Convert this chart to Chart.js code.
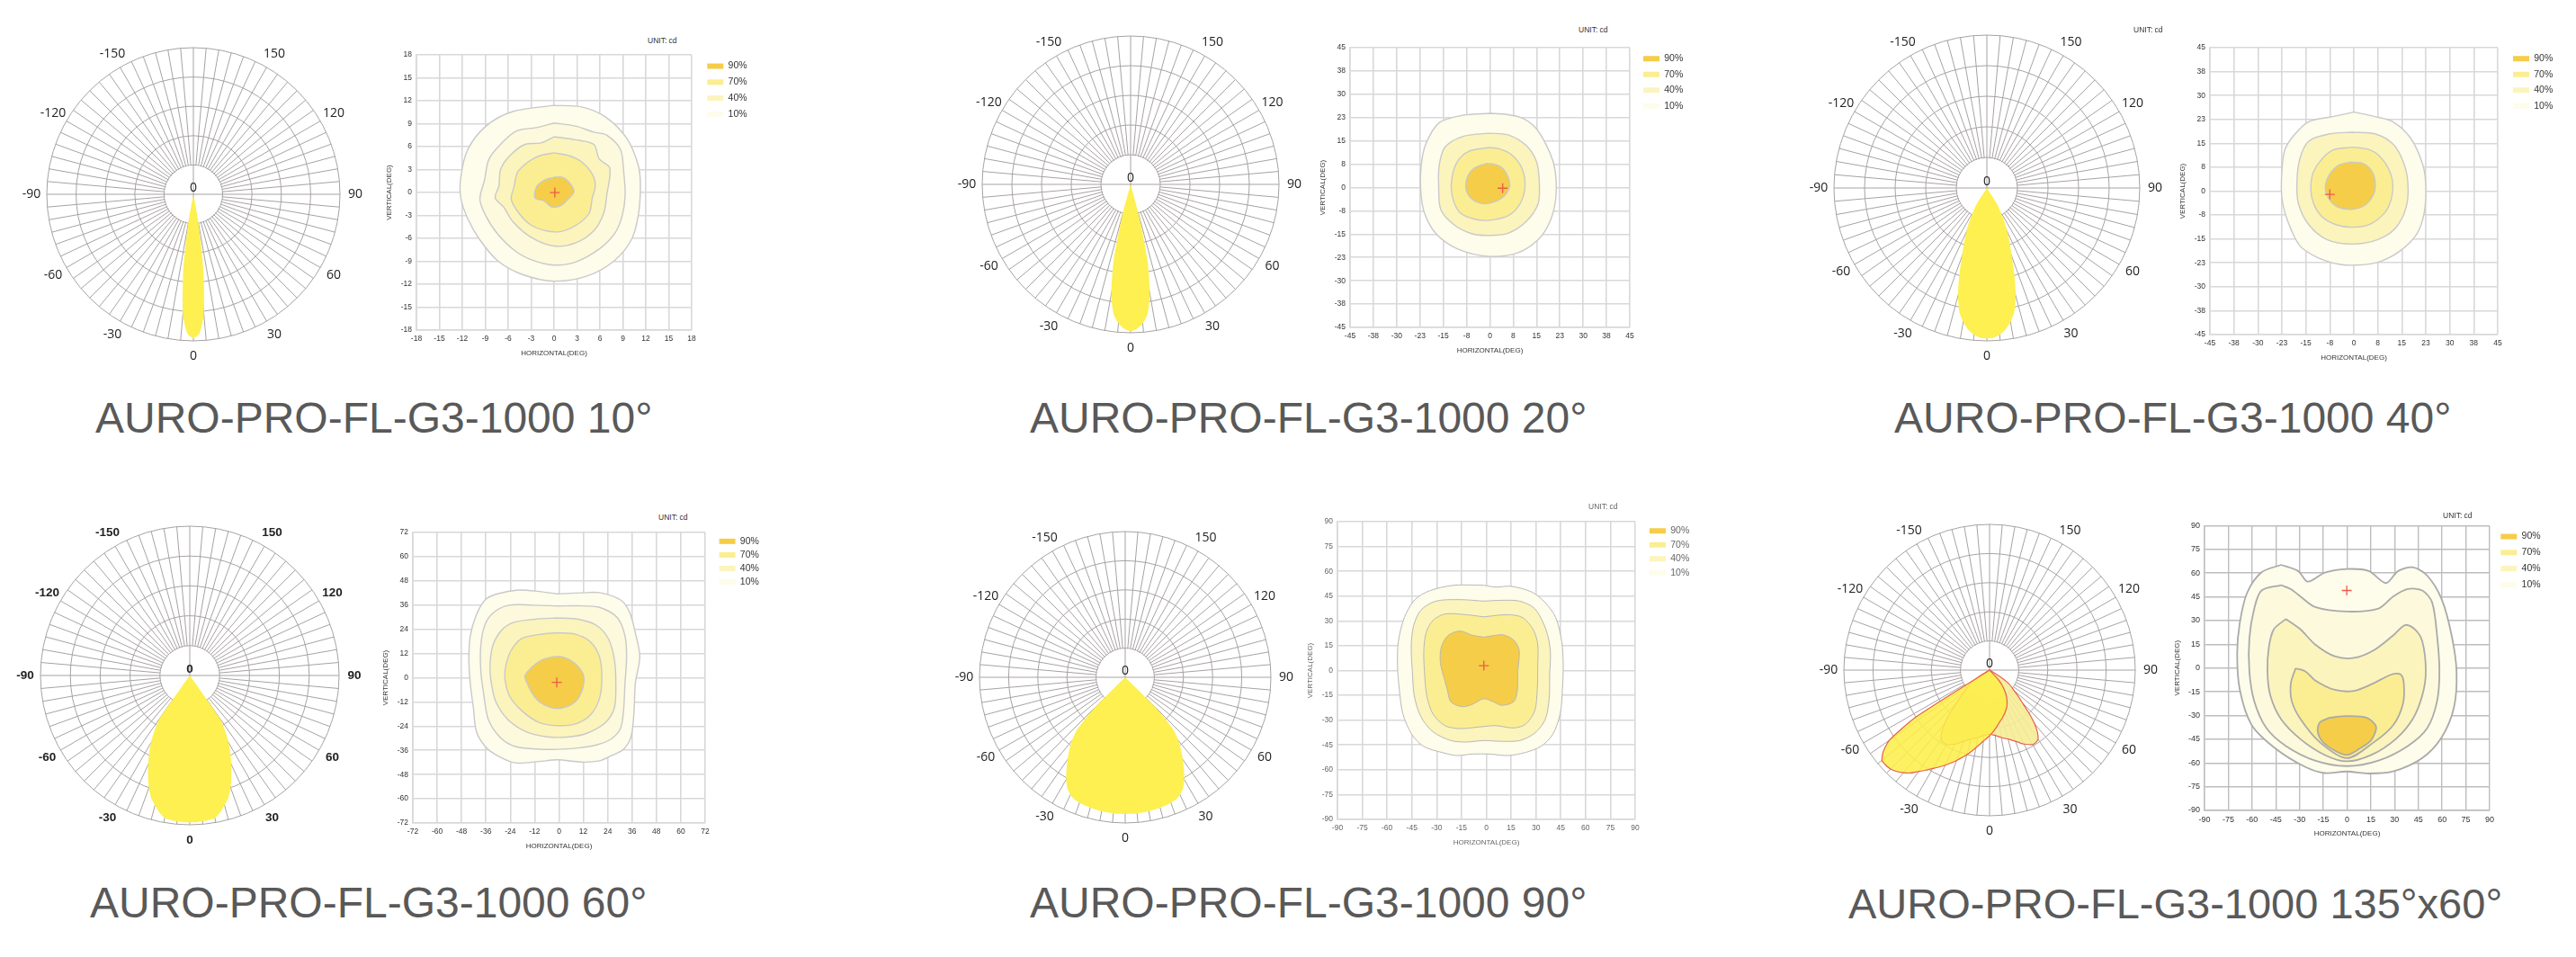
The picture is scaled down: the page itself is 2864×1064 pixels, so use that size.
<!DOCTYPE html>
<html>
<head>
<meta charset="utf-8">
<script src="https://cdn.jsdelivr.net/npm/chart.js@4.4.1/dist/chart.umd.min.js"></script>
<style>
  html, body { margin: 0; padding: 0; background: #fff; }
  body { width: 2864px; height: 1064px; position: relative; overflow: hidden; font-family: "Liberation Sans", Arial, sans-serif; }
  canvas { position: absolute; }
  .cap { position: absolute; font-size: 48px; line-height: 1; color: #595959; white-space: nowrap; }
  .unit { position: absolute; font-size: 8.5px; line-height: 1; color: #333; white-space: nowrap; }
</style>
</head>
<body>
<canvas id="polar1"></canvas><canvas id="iso1"></canvas>
<canvas id="polar2"></canvas><canvas id="iso2"></canvas>
<canvas id="polar3"></canvas><canvas id="iso3"></canvas>
<canvas id="polar4"></canvas><canvas id="iso4"></canvas>
<canvas id="polar5"></canvas><canvas id="iso5"></canvas>
<canvas id="polar6"></canvas><canvas id="iso6"></canvas>

<div class="unit" style="left:720px;top:41px">UNIT: cd</div>
<div class="unit" style="left:1755px;top:29px">UNIT: cd</div>
<div class="unit" style="left:2372px;top:29px">UNIT: cd</div>
<div class="unit" style="left:732px;top:571px">UNIT: cd</div>
<div class="unit" style="left:1766px;top:559px;color:#666">UNIT: cd</div>
<div class="unit" style="left:2716px;top:569px">UNIT: cd</div>

<div class="cap" style="left:106px;top:441px">AURO-PRO-FL-G3-1000 10°</div>
<div class="cap" style="left:1145px;top:441px">AURO-PRO-FL-G3-1000 20°</div>
<div class="cap" style="left:2106px;top:441px">AURO-PRO-FL-G3-1000 40°</div>
<div class="cap" style="left:100px;top:980px">AURO-PRO-FL-G3-1000 60°</div>
<div class="cap" style="left:1145px;top:980px">AURO-PRO-FL-G3-1000 90°</div>
<div class="cap" style="left:2055px;top:981px;font-size:47px">AURO-PRO-FL-G3-1000 135°x60°</div>

<script>
Chart.defaults.font.family = '"Liberation Sans", Arial, sans-serif';

// ---------- polar (candela) diagrams ----------
// radius on a 0..5 ring scale, one value every 2.5 deg from 0 outward
const lobe10 = [4.91, 4.75, 4.1, 2.65, 1.06, 0];
const lobe20 = [4.95, 4.87, 4.7, 4.4, 3.75, 2.65, 1.1, 0];
const lobe40 = [4.92, 4.9, 4.82, 4.67, 4.45, 4.15, 3.65, 3.0, 2.4, 1.95, 1.6, 1.25, 0.9, 0.6, 0];
const lobe60 = [4.92, 4.92, 4.9, 4.88, 4.85, 4.7, 4.5, 4.3, 4.0, 3.65, 3.3, 2.95, 2.6, 2.2, 1.75, 0];
const lobe90 = [4.69, 4.69, 4.69, 4.68, 4.67, 4.65, 4.63, 4.61, 4.58, 4.54, 4.45, 4.3, 4.05, 3.75,
                3.45, 3.15, 2.85, 2.45, 1.5, 0];
// 135x60 is asymmetric: start angle + values every 2.5 deg
const lobe135aFrom = -60;
const lobe135a = [0, 3.0, 4.2, 4.6, 4.82, 4.83, 4.8, 4.72, 4.6, 4.45, 4.25, 4.07, 3.9, 3.75, 3.6, 3.45,
                  3.3, 3.15, 3.0, 2.85, 2.7, 2.57, 2.45, 2.35, 2.25, 2.15, 2.05, 1.95, 1.85, 1.77, 1.7,
                  1.62, 1.55, 1.47, 1.4, 1.3, 1.2, 1.08, 0.95, 0.8, 0.65, 0.45, 0];
const lobe135bFrom = -60;
const lobe135b = [0, 0.5, 0.8, 0.95, 1.1, 1.35, 1.6, 2.0, 2.4, 2.7, 2.9, 2.95, 2.95, 2.88, 2.8, 2.7,
                  2.6, 2.52, 2.45, 2.4, 2.35, 2.3, 2.25, 2.22, 2.2, 2.22, 2.25, 2.3, 2.35, 2.4, 2.45,
                  2.52, 2.6, 2.7, 2.8, 2.88, 2.95, 2.95, 2.9, 2.7, 2.4, 2.0, 1.6, 1.35, 1.1, 0.95, 0.8, 0.5, 0];
const shownAngles = [0, 30, 60, 90, 120, 150, -30, -60, -90, -120, -150];

const STEP = 2.5, N = 144;
const angleLabels = [];
for (let i = 0; i < N; i++) angleLabels.push(i <= 72 ? -i * STEP : 360 - i * STEP);
const idx = a => (a <= 0 ? Math.round(-a / STEP) : Math.round((360 - a) / STEP)) % N;

function symLobe(vals) {
  const d = new Array(N).fill(0);
  vals.forEach((v, k) => { d[idx(k * STEP)] = v; d[idx(-k * STEP)] = v; });
  return d;
}
function rangeLobe(vals, from) {
  const d = new Array(N).fill(0);
  vals.forEach((v, k) => { d[idx(from + k * STEP)] = v; });
  return d;
}

const ringColor = '#a7a2a2';
const lobeYellow = '#fdf050';

const polarDecor = {
  id: 'polarDecor',
  beforeDatasetsDraw(chart) {
    const r = chart.scales.r, ctx = chart.ctx;
    const hole = r.getDistanceFromCenterForValue(1);
    ctx.save();
    ctx.fillStyle = '#fff';
    ctx.beginPath();
    ctx.arc(r.xCenter, r.yCenter, hole - 0.7, 0, Math.PI * 2);
    ctx.fill();
    ctx.strokeStyle = ringColor;
    ctx.lineWidth = 1;
    ctx.beginPath();
    ctx.moveTo(r.xCenter - hole, r.yCenter); ctx.lineTo(r.xCenter + hole, r.yCenter);
    ctx.moveTo(r.xCenter, r.yCenter - hole); ctx.lineTo(r.xCenter, r.yCenter + hole);
    ctx.stroke();
    ctx.restore();
  },
  afterDatasetsDraw(chart, args, opts) {
    const r = chart.scales.r, ctx = chart.ctx;
    ctx.save();
    ctx.font = opts.font;
    ctx.fillStyle = opts.color;
    ctx.textAlign = 'center';
    ctx.textBaseline = 'middle';
    shownAngles.forEach(a => {
      const p = r.getPointPosition(idx(a), r.drawingArea + opts.gap);
      ctx.fillText(String(a), p.x, p.y);
    });
    ctx.fillText('0', r.xCenter, r.yCenter - 7);
    ctx.restore();
  }
};

const PAD = 36;
function polar(id, cx, cy, R, datasets, font) {
  const el = document.getElementById(id);
  el.width = el.height = 2 * R + 2 * PAD;
  el.style.left = (cx - R - PAD) + 'px';
  el.style.top = (cy - R - PAD) + 'px';
  new Chart(el, {
    type: 'radar',
    data: { labels: angleLabels, datasets },
    options: {
      responsive: false,
      animation: false,
      layout: { padding: PAD },
      plugins: {
        legend: { display: false },
        tooltip: { enabled: false },
        polarDecor: { font, color: '#222', gap: 17 }
      },
      scales: {
        r: {
          min: 0, max: 5, startAngle: 180,
          ticks: { display: false, stepSize: 1 },
          pointLabels: { display: false },
          grid: { circular: true, color: ringColor, lineWidth: 1 },
          angleLines: { color: c => (c.index % 2 ? 'transparent' : ringColor), lineWidth: 1 }
        }
      },
      elements: { point: { radius: 0 }, line: { tension: 0.2 } }
    },
    plugins: [polarDecor]
  });
}
const solid = data => ({ data, fill: true, backgroundColor: lobeYellow, borderColor: 'transparent', borderWidth: 0 });

const f14 = '14px "Open Sans", "Liberation Sans", sans-serif';
polar('polar1', 215, 216, 163, [solid(symLobe(lobe10))], f14);
polar('polar2', 1257, 205, 165, [solid(symLobe(lobe20))], f14);
polar('polar3', 2209, 209, 170, [solid(symLobe(lobe40))], f14);
polar('polar4', 211, 751, 166, [solid(symLobe(lobe60))], 'bold 13.5px "Liberation Sans", sans-serif');
polar('polar5', 1251, 753, 162, [solid(symLobe(lobe90))], f14);
polar('polar6', 2212, 745, 162, [
  { data: rangeLobe(lobe135a, lobe135aFrom), fill: true, backgroundColor: 'rgba(253,238,70,0.85)', borderColor: '#e8604c', borderWidth: 1.2 },
  { data: rangeLobe(lobe135b, lobe135bFrom), fill: true, backgroundColor: 'rgba(246,236,150,0.9)', borderColor: '#e8604c', borderWidth: 1.2 }
], f14);

// ---------- isolux (isocandela) contour charts ----------
const ticks18 = ['-18','-15','-12','-9','-6','-3','0','3','6','9','12','15','18'];
const ticks45 = ['-45','-38','-30','-23','-15','-8','0','8','15','23','30','38','45'];
const ticks72 = ['-72','-60','-48','-36','-24','-12','0','12','24','36','48','60','72'];
const ticks90 = ['-90','-75','-60','-45','-30','-15','0','15','30','45','60','75','90'];

const c10 = '#fefcea', c20 = '#fdf9dc', c40 = '#fcf4bd', c70 = '#fbee92', c90 = '#f5cd48';

// panel 1 (10 deg)
const p1A = [[0,11.4],[-5.4,10.6],[-8.9,8.7],[-11.3,5.6],[-12.2,2.0],[-12.2,-0.7],[-11.3,-3.4],[-9.7,-6.2],[-7.4,-8.9],[-4.2,-10.7],[0,-11.6],[4.4,-10.9],[7.9,-8.9],[10.1,-6.2],[11.0,-3.1],[11.3,0.9],[11.0,3.6],[9.5,7.1],[6.7,9.9],[3.6,11.2]];
const p1B = [[0,9.1],[-2.3,8.5],[-4.8,8.1],[-6.6,6.7],[-8.5,4.4],[-9.1,1.6],[-9.7,-0.9],[-8.9,-3.1],[-7.4,-5.4],[-5.0,-7.7],[-2.7,-8.9],[0,-9.5],[2.8,-9.1],[5.9,-7.4],[7.9,-5.4],[8.9,-3.1],[9.3,-0.3],[9.1,2.8],[8.7,5.6],[6.9,7.5],[5.2,7.9],[2.8,8.7]];
const p1C = [[0,7.3],[-1.7,6.5],[-3.8,6.3],[-5.8,4.8],[-7.0,3.0],[-7.2,0.9],[-7.7,-0.7],[-6.6,-1.9],[-5.4,-3.8],[-3.1,-5.8],[0,-7.0],[2.8,-6.6],[5.2,-5.0],[6.5,-2.7],[6.9,-0.3],[7.3,3.2],[5.9,4.4],[5.2,6.3],[2.8,6.9]];
const p1D = [[0,5.2],[-1.9,4.8],[-3.4,4.0],[-4.8,2.6],[-5.2,0.9],[-5.6,-0.9],[-4.6,-2.7],[-3.1,-4.2],[-1.1,-5.0],[0.9,-5.1],[3.0,-4.2],[4.6,-2.7],[5.0,-0.7],[5.4,0.9],[5.0,2.4],[3.6,4.0],[2.0,4.8]];
const p1E = [[0,2.0],[-1.3,1.6],[-2.3,0.7],[-2.5,-0.7],[-1.3,-1.1],[-0.3,-1.9],[0.9,-1.7],[1.8,-0.9],[2.6,0.1],[2.0,1.3],[1.1,2.0]];
const p1Peak = [0.1, 0];

// panel 2 (20 deg)
const p2A = [[0,23.9],[-8.6,23.3],[-16.3,20.9],[-20.6,14.1],[-22.1,7.3],[-22.3,-0.4],[-21.1,-8.1],[-17.3,-14.9],[-10.5,-19.7],[-0.9,-22.1],[8.7,-21.1],[15.5,-16.8],[19.3,-11.0],[21.2,-3.3],[21.0,5.4],[19.3,11.2],[15.0,18.9],[10.6,22.3],[4.9,23.6]];
const p2B = [[-0.4,17.5],[-8.6,16.5],[-14.4,13.1],[-16.3,7.3],[-16.5,0.6],[-15.8,-7.1],[-11.5,-12.0],[-5.7,-14.9],[-0.4,-15.4],[5.8,-14.7],[11.6,-11.0],[15.5,-5.2],[15.9,1.5],[15.0,8.3],[11.6,13.6],[5.8,17.0]];
const p2C = [[-0.4,12.9],[-6.7,11.7],[-10.5,8.3],[-12.3,2.5],[-12.0,-3.3],[-9.6,-8.1],[-4.8,-10.2],[0,-10.5],[5.8,-9.1],[9.7,-5.2],[11.3,0.6],[10.2,6.4],[6.8,10.7],[2.9,12.5]];
const p2D = [[-0.9,7.8],[-4.8,6.4],[-7.2,3.5],[-7.7,-0.4],[-6.2,-3.3],[-3.3,-5.0],[0,-5.0],[3.9,-3.3],[6.3,0.1],[5.8,3.5],[3.9,6.4],[1.5,7.5]];
const p2Peak = [4.1, -0.2];

// panel 3 (40 deg)
const p3A = [[0,24.8],[-6.6,23.4],[-14.1,21.8],[-18.7,17.6],[-21.6,12.9],[-22.5,6.3],[-22.5,-2.1],[-20.6,-9.6],[-16.9,-17.1],[-11.2,-20.9],[-4.7,-22.9],[0.9,-23.2],[7.5,-22.3],[14.1,-19.0],[19.7,-13.4],[22.0,-6.8],[22.5,1.6],[21.6,8.2],[17.8,16.6],[12.2,21.8],[6.6,23.4]];
const p3B = [[-0.5,18.5],[-7.5,18.0],[-14.1,15.7],[-16.9,10.1],[-17.8,2.6],[-17.3,-4.0],[-14.1,-10.5],[-8.4,-15.2],[-0.5,-16.6],[7.5,-15.2],[13.1,-11.5],[16.4,-4.9],[16.9,2.6],[15.5,9.1],[12.2,14.8],[6.6,18.0]];
const p3C = [[0,13.8],[-6.6,12.9],[-10.8,9.1],[-13.1,4.5],[-13.1,-2.1],[-10.3,-7.7],[-5.6,-10.5],[0,-11.3],[5.6,-10.1],[10.3,-5.9],[12.2,0.7],[11.2,6.3],[8.0,11.0],[4.7,13.1]];
const p3D = [[-0.9,9.1],[-4.7,8.2],[-7.5,5.4],[-8.9,1.6],[-8.0,-2.1],[-5.2,-4.9],[-0.9,-5.7],[3.3,-4.5],[6.1,-1.2],[6.7,2.6],[5.6,6.3],[2.8,8.7]];
const p3Peak = [-7.5, -1.0];

// panel 4 (60 deg)
const p4A = [[-0.8,41.6],[-9.7,42.8],[-20.0,43.5],[-30.4,41.6],[-36.3,38.7],[-40.7,31.2],[-43.7,20.8],[-44.4,9.0],[-43.7,-2.9],[-42.2,-14.8],[-40.7,-26.6],[-36.3,-34.1],[-30.4,-38.6],[-21.5,-42.2],[-9.7,-41.5],[-0.8,-40.7],[11.0,-41.8],[19.9,-41.2],[25.8,-38.6],[31.7,-35.5],[35.4,-29.6],[36.9,-17.7],[37.6,-2.9],[39.8,10.5],[37.6,22.3],[34.7,32.7],[30.3,38.6],[19.9,42.2],[11.0,42.1]];
const p4B = [[-0.8,35.6],[-12.6,36.0],[-24.5,36.0],[-31.8,32.7],[-36.3,26.7],[-38.5,16.3],[-38.5,3.0],[-37.0,-8.8],[-34.8,-20.7],[-28.9,-29.6],[-21.5,-34.1],[-11.1,-35.3],[-0.8,-35.5],[9.5,-34.8],[18.4,-33.3],[25.8,-30.3],[30.3,-25.1],[31.8,-16.2],[32.5,-2.9],[33.3,10.5],[32.5,20.8],[28.8,29.7],[19.9,34.9],[9.5,35.7]];
const p4C = [[-0.8,29.7],[-11.9,29.0],[-22.2,27.5],[-28.1,23.8],[-32.5,16.3],[-34.0,6.0],[-33.3,-2.9],[-31.1,-11.9],[-25.2,-20.7],[-16.3,-26.7],[-5.9,-29.3],[5.1,-29.3],[14.0,-27.4],[22.8,-22.3],[27.3,-14.8],[28.0,-2.9],[27.3,9.0],[24.3,19.4],[18.4,26.0],[9.5,29.0]];
const p4D = [[-0.8,22.3],[-9.7,21.5],[-18.5,19.4],[-23.7,13.4],[-26.2,6.0],[-26.7,0.1],[-24.5,-8.8],[-18.5,-16.2],[-9.7,-22.2],[-0.8,-23.7],[8.1,-22.9],[15.4,-18.5],[19.9,-10.4],[21.1,0.1],[19.9,10.5],[15.4,17.9],[8.1,21.6]];
const p4E = [[-2.3,10.5],[-8.2,9.0],[-13.4,5.3],[-16.8,0.8],[-15.6,-2.9],[-13.4,-7.4],[-9.7,-11.9],[-3.8,-14.8],[2.1,-14.8],[8.0,-11.9],[11.5,-5.9],[12.2,0.8],[9.6,5.3],[5.1,9.0],[0.7,10.5]];
const p4Peak = [-1.1, -2.3];

// panel 5 (90 deg)
const p5A = [[-1.5,51.6],[-19.7,51.6],[-34.2,48.3],[-43.2,42.9],[-49.6,32.0],[-53.2,17.5],[-53.7,3.0],[-52.6,-11.5],[-50.5,-26.0],[-45.0,-38.7],[-37.8,-45.9],[-26.9,-49.5],[-17.8,-51.4],[-8.8,-50.5],[2.1,-50.5],[13.0,-51.4],[23.8,-49.5],[32.9,-45.9],[40.1,-38.7],[44.7,-26.0],[46.0,-11.5],[46.5,3.0],[45.6,17.5],[42.0,32.0],[35.6,41.1],[27.5,47.5],[14.8,51.0],[5.7,50.5]];
const p5B = [[-1.5,42.0],[-16.0,42.9],[-30.5,42.0],[-39.6,36.5],[-44.1,26.6],[-45.4,13.9],[-44.7,-0.6],[-43.6,-15.1],[-39.6,-27.8],[-32.4,-36.9],[-21.5,-42.3],[-12.4,-43.2],[-1.5,-42.3],[9.3,-42.8],[20.2,-42.3],[29.3,-37.8],[35.6,-29.6],[38.0,-16.9],[38.3,-2.4],[38.7,12.1],[36.1,24.7],[29.3,37.4],[20.2,42.0],[9.3,42.5]];
const p5C = [[-1.5,32.5],[-12.4,33.8],[-25.1,34.2],[-32.4,30.2],[-36.4,23.0],[-37.8,12.1],[-37.4,-0.6],[-36.0,-15.1],[-32.4,-26.0],[-25.1,-33.3],[-16.0,-35.1],[-5.2,-34.2],[5.7,-33.3],[16.6,-34.7],[23.8,-32.4],[29.3,-24.2],[30.8,-11.5],[31.1,3.0],[31.1,15.7],[28.4,24.7],[22.0,32.0],[13.0,33.8]];
const p5D = [[-1.5,20.2],[-8.8,21.5],[-16.0,23.9],[-23.3,21.1],[-27.3,13.9],[-27.8,4.8],[-25.1,-6.1],[-23.6,-11.5],[-21.5,-18.8],[-15.1,-21.8],[-8.8,-20.6],[-1.5,-17.0],[3.9,-18.8],[9.3,-21.0],[16.6,-18.8],[18.8,-11.5],[19.0,-0.6],[19.9,12.1],[16.6,18.4],[10.2,21.6],[3.9,21.1]];
const p5Peak = [-1.5, 3.0];

// panel 6 (135x60 deg)
const p6A = [[-41.7,65.2],[-54.0,60.5],[-63.2,47.3],[-67.8,28.2],[-69.4,9.3],[-67.8,-13.4],[-60.2,-36.1],[-44.8,-51.2],[-26.3,-62.6],[-14.0,-66.4],[-0.2,-65.4],[13.7,-66.7],[29.1,-65.4],[47.5,-56.9],[59.8,-43.7],[67.5,-24.8],[69.1,-2.1],[66.0,20.6],[59.8,43.3],[50.6,58.4],[41.4,63.7],[32.2,61.3],[24.5,53.7],[13.7,61.3],[-0.2,62.6],[-14.0,60.3],[-24.8,54.6],[-30.9,61.3]];
const p6B = [[-41.7,52.4],[-54.0,49.0],[-58.6,37.6],[-61.7,18.7],[-61.7,-2.1],[-58.6,-21.0],[-50.9,-38.0],[-38.6,-49.3],[-20.2,-58.5],[-0.2,-62.0],[19.8,-58.5],[38.3,-49.3],[50.6,-38.0],[56.8,-21.0],[58.3,-2.1],[56.8,20.6],[53.7,41.4],[47.5,49.0],[38.3,49.9],[29.1,45.2],[19.8,37.6],[-0.2,35.7],[-20.2,38.6],[-29.4,45.2],[-35.5,49.9]];
const p6C = [[-38.6,31.0],[-46.3,24.4],[-49.4,13.0],[-50.3,-2.1],[-48.5,-17.2],[-41.7,-32.3],[-29.4,-45.0],[-14.0,-55.0],[-0.2,-59.0],[15.2,-55.0],[30.6,-45.0],[41.4,-32.3],[47.5,-17.2],[49.7,-2.1],[47.5,16.8],[42.9,24.4],[36.8,27.2],[29.1,20.6],[16.8,11.2],[4.5,6.4],[-7.8,7.4],[-20.2,14.9],[-29.4,24.4]];
const p6D = [[-32.5,-0.2],[-35.5,-9.6],[-34.9,-21.0],[-29.4,-32.3],[-17.1,-47.0],[-0.2,-57.0],[16.8,-47.0],[29.1,-36.1],[35.2,-22.9],[35.8,-9.6],[33.7,-4.0],[27.5,-4.3],[16.8,-9.6],[4.5,-14.4],[-7.8,-13.8],[-20.2,-7.8],[-26.3,-2.1]];
const p6E = [[-10.9,-31.4],[-0.2,-30.4],[12.2,-31.4],[18.3,-37.1],[15.2,-45.6],[7.5,-51.2],[-0.2,-55.0],[-7.8,-52.2],[-15.5,-46.5],[-18.6,-39.9],[-17.1,-34.2]];
const p6Peak = [-0.2, 49.0];

const closed = pts => pts.concat([pts[0]]).map(p => ({ x: p[0], y: p[1] }));

function contour(label, pts, color, line) {
  return {
    label, data: closed(pts), showLine: true, fill: 'shape',
    backgroundColor: color, borderColor: line.color, borderWidth: line.width,
    pointRadius: 0, tension: 0.3
  };
}
function peak(p) {
  return {
    label: '', data: [{ x: p[0], y: p[1] }], showLine: false,
    pointStyle: 'cross', pointRadius: 5.5, pointBorderColor: '#ee5a48', pointBorderWidth: 1.3,
    pointBackgroundColor: '#ee5a48'
  };
}

function isolux(id, o) {
  const el = document.getElementById(id);
  const padL = 4, yW = 38, padT = 10, xH = 34, padB = 4, legW = 56, padR = 8;
  el.width = padL + yW + o.w + o.gapW + legW + padR;
  el.height = padT + o.h + xH + padB;
  el.style.left = (o.left - padL - yW) + 'px';
  el.style.top = (o.top - padT) + 'px';
  const tickFont = { size: o.tickSize || 8.5 };
  const titleFont = { size: 8 };
  const axis = (txt, labels, fixed) => ({
    type: 'linear', min: -o.range, max: o.range,
    ticks: { stepSize: o.range / 6, autoSkip: false, maxRotation: 0, padding: 5,
             callback: (v, i) => labels[i], font: tickFont, color: o.text },
    grid: { color: o.grid, lineWidth: o.gridW, drawTicks: false },
    border: { color: o.grid, width: o.gridW },
    title: { display: true, text: txt, font: titleFont, color: o.text, padding: { top: 3, bottom: 3 } },
    afterFit: fixed
  });
  new Chart(el, {
    type: 'scatter',
    data: { datasets: o.datasets },
    options: {
      responsive: false,
      animation: false,
      layout: { padding: { left: padL, top: padT, right: padR, bottom: padB } },
      plugins: {
        tooltip: { enabled: false },
        legend: {
          position: 'right', align: 'start', maxWidth: legW,
          labels: {
            boxWidth: 18, boxHeight: 6, padding: o.legPad, color: o.text, font: { size: 10.5 },
            filter: item => item.text !== '',
            generateLabels: chart => Chart.defaults.plugins.legend.labels.generateLabels(chart)
              .map(l => Object.assign(l, { lineWidth: 0, strokeStyle: l.fillStyle }))
          }
        }
      },
      scales: {
        x: axis('HORIZONTAL(DEG)', o.ticks, s => { s.height = xH; }),
        y: axis('VERTICAL(DEG)', o.ticks, s => { s.width = yW; }),
        y1: {
          position: 'right', min: 0, max: 1,
          grid: { display: false, drawTicks: false }, border: { display: false },
          ticks: { display: false },
          afterFit: s => { s.width = o.gapW; }
        }
      }
    }
  });
}

const thinLine = { color: '#c9c9c9', width: 1.4 };
function sets(peakPt, list, line) {
  return [peak(peakPt)].concat(list.map(c => contour(c[0], c[1], c[2], line)));
}

isolux('iso1', { left: 463, top: 61, w: 306, h: 306, gapW: 10, legPad: 7.3, range: 18, ticks: ticks18,
  text: '#333', grid: '#d8d8d8', gridW: 1.6,
  datasets: sets(p1Peak, [['90%', p1E, c90], ['70%', p1D, c70], ['40%', p1C, c40], ['', p1B, c20], ['10%', p1A, c10]], thinLine) });
isolux('iso2', { left: 1501, top: 53, w: 311, h: 311, gapW: 8, legPad: 7, range: 45, ticks: ticks45,
  text: '#333', grid: '#d8d8d8', gridW: 1.6,
  datasets: sets(p2Peak, [['90%', p2D, c90], ['70%', p2C, c70], ['40%', p2B, c40], ['10%', p2A, c10]], thinLine) });
isolux('iso3', { left: 2457, top: 53, w: 320, h: 319, gapW: 10, legPad: 7, range: 45, ticks: ticks45,
  text: '#333', grid: '#d8d8d8', gridW: 1.6,
  datasets: sets(p3Peak, [['90%', p3D, c90], ['70%', p3C, c70], ['40%', p3B, c40], ['10%', p3A, c10]], thinLine) });
isolux('iso4', { left: 459, top: 592, w: 325, h: 323, gapW: 11, legPad: 4.6, range: 72, ticks: ticks72,
  text: '#333', grid: '#d8d8d8', gridW: 1.6,
  datasets: sets(p4Peak, [['90%', p4E, c90], ['70%', p4D, c70], ['40%', p4C, c40], ['', p4B, c20], ['10%', p4A, c10]], thinLine) });
isolux('iso5', { left: 1487, top: 580, w: 331, h: 331, gapW: 11, legPad: 5, range: 90, ticks: ticks90,
  text: '#666', grid: '#d8d8d8', gridW: 1.6,
  datasets: sets(p5Peak, [['90%', p5D, c90], ['70%', p5C, c70], ['40%', p5B, c40], ['10%', p5A, c10]], { color: '#b8b8b8', width: 1 }) });
isolux('iso6', { left: 2451, top: 584, w: 317, h: 317, gapW: 5, legPad: 7.3, range: 90, ticks: ticks90,
  text: '#333', grid: '#bdbdbd', gridW: 1.4, tickSize: 9,
  datasets: sets(p6Peak, [['90%', p6E, c90], ['70%', p6D, c70], ['40%', p6C, c40], ['', p6B, c20], ['10%', p6A, c10]], { color: '#aaaaaa', width: 1.8 }) });
</script>
</body>
</html>
